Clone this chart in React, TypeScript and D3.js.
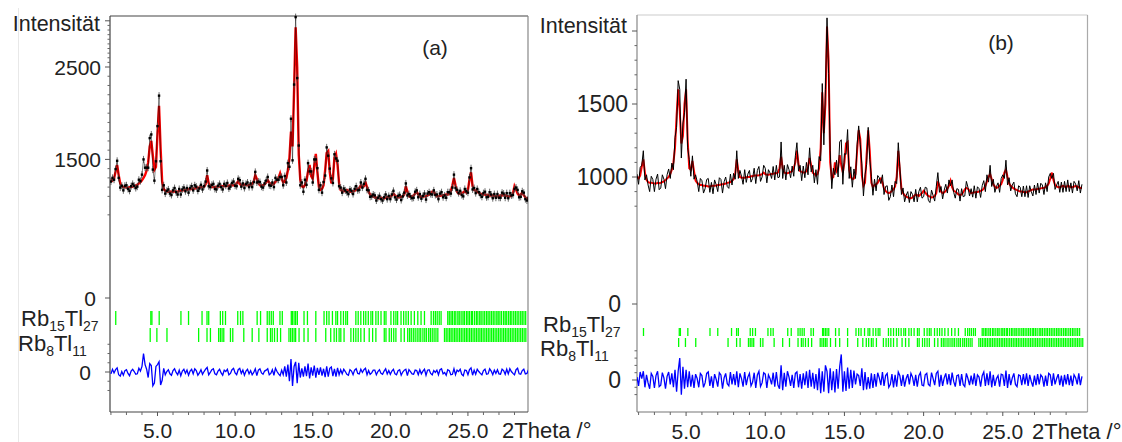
import React from "react";
import * as d3 from "d3";

// ---------- DATA ----------
// Panel (a): 2θ grid starts at 2.0°, step 0.1°
const startA = 2.0;
const calcA = [
  1280, 1270, 1290, 1370, 1440, 1330, 1240, 1210, 1200, 1200,
  1195, 1195, 1200, 1200, 1205, 1210, 1215, 1225, 1240, 1255,
  1275, 1300, 1330, 1380, 1470, 1640, 1700, 1540, 1390, 1420,
  1780, 2080, 1620, 1260, 1180, 1160, 1155, 1150, 1150, 1150,
  1150, 1155, 1150, 1150, 1160, 1160, 1165, 1165, 1170, 1170,
  1175, 1180, 1180, 1185, 1185, 1190, 1195, 1195, 1200, 1200,
  1205, 1230, 1330, 1240, 1205, 1200, 1200, 1200, 1205, 1205,
  1205, 1210, 1210, 1215, 1210, 1215, 1215, 1220, 1220, 1220,
  1225, 1240, 1265, 1235, 1220, 1220, 1225, 1225, 1220, 1220,
  1225, 1230, 1260, 1330, 1290, 1240, 1220, 1215, 1220, 1230,
  1250, 1275, 1250, 1230, 1225, 1235, 1260, 1275, 1300, 1350,
  1290, 1250, 1260, 1300, 1380, 1520, 1800, 1640, 2250, 2930,
  2500, 1550, 1280, 1210, 1200, 1220, 1270, 1370, 1440, 1320,
  1290, 1430, 1560, 1360, 1200, 1170, 1180, 1220, 1380, 1570,
  1590, 1360, 1240, 1290, 1520, 1560, 1440, 1240, 1170, 1160,
  1155, 1160, 1170, 1160, 1150, 1150, 1155, 1160, 1175, 1180,
  1190, 1220, 1200, 1210, 1250, 1200, 1150, 1120, 1110, 1100,
  1090, 1085, 1080, 1080, 1085, 1080, 1080, 1085, 1090, 1090,
  1095, 1110, 1130, 1110, 1095, 1090, 1090, 1095, 1100, 1120,
  1210, 1150, 1100, 1095, 1100, 1110, 1130, 1150, 1120, 1100,
  1095, 1095, 1100, 1100, 1110, 1120, 1140, 1150, 1150, 1120,
  1100, 1100, 1105, 1110, 1110, 1115, 1120, 1120, 1130, 1160,
  1220, 1300, 1220, 1150, 1130, 1130, 1140, 1140, 1160, 1140,
  1170, 1280, 1360, 1210, 1170, 1160, 1150, 1140, 1130, 1125,
  1120, 1120, 1115, 1115, 1110, 1110, 1110, 1105, 1100, 1100,
  1105, 1110, 1110, 1115, 1110, 1105, 1100, 1100, 1105, 1130,
  1210, 1170, 1130, 1110, 1120, 1140, 1110, 1090, 1070, 1060,
];
const diffA = [
  -20, 30, -10, 25, 45, -30, -45, 5, -35, 15,
  25, -15, -40, 10, 30, 5, -25, -20, 40, 10,
  60, 200, 80, 30, -60, 90, 70, -150, -120, 60,
  80, 110, -140, -90, 40, -30, 5, 25, -20, -35,
  15, 35, -5, -30, 20, -40, 10, 30, -15, 20,
  -35, 10, 30, -20, 35, 15, -35, -10, 25, -25,
  5, 30, 50, -30, -5, 25, 35, -20, -30, 10,
  30, -10, -35, 20, 5, 30, -30, -15, 25, 40,
  -10, -30, 25, 40, -15, 20, -35, 10, 30, -20,
  15, -30, -5, 35, -40, 20, 35, -10, -25, 10,
  20, 35, -30, -15, 25, -35, 40, 5, -20, -40,
  20, -30, 60, -50, 80, -100, 140, -150, 60, 110,
  -120, 100, -60, 40, -50, 60, -45, 90, -70, 50,
  -40, 70, -60, 45, -30, 50, -40, 35, -55, 60,
  -50, 40, 55, -45, 35, -50, 45, -30, 25, -20,
  30, 5, -25, -35, 25, 10, -30, 20, 35, -15,
  -20, 30, -5, 25, 40, -30, 15, -25, -10, 20,
  20, -30, 5, 25, -15, -25, 10, 35, -20, 15,
  -25, 10, 30, -20, -30, 15, 25, -35, 0, 20,
  30, -40, 25, 5, -20, -25, 20, 15, -30, 25,
  -20, 10, 30, -35, 20, 25, -15, -30, 15, -5,
  20, -30, 25, 35, -20, -5, -35, 25, 15, -30,
  -25, 35, -30, 20, 5, 30, -25, -40, 20, 15,
  -30, 25, 45, -35, 20, -25, 30, 5, -15, -30,
  15, 30, -25, -20, 35, 10, -30, 20, -15, 25,
  -20, -25, 30, 15, -25, 30, -20, 35, 5, -15,
  -30, 25, 40, -20, -25, 15, 30, -20, -15, 25,
];

// Panel (b): 2θ grid starts at 1.9°, step 0.1°
const startB = 1.9;
const calcB = [
  1000,
  990, 1010, 1070, 1120, 1030, 980, 965, 960, 960, 958,
  955, 955, 960, 958, 960, 965, 970, 980, 990, 1000,
  1020, 1050, 1100, 1200, 1420, 1600, 1450, 1230, 1280, 1500,
  1600, 1250, 1060, 1050, 1110, 1040, 975, 960, 950, 945,
  945, 940, 940, 938, 935, 935, 938, 940, 940, 942,
  945, 945, 948, 950, 952, 955, 960, 962, 965, 975,
  985, 1020, 1120, 1040, 1000, 995, 995, 995, 998, 1000,
  1000, 1005, 1005, 1010, 1010, 1010, 1012, 1015, 1020, 1030,
  1020, 1015, 1015, 1018, 1020, 1022, 1025, 1025, 1030, 1060,
  1140, 1060, 1030, 1025, 1025, 1030, 1035, 1040, 1060, 1100,
  1180, 1090, 1040, 1035, 1030, 1030, 1040, 1070, 1130, 1080,
  1030, 1020, 1010, 1020, 1060, 1200, 1580, 1300, 1500, 2030,
  1800, 1100, 990, 1000, 1100, 1040, 1060, 1150, 1080, 1030,
  1100, 1230, 1240, 1050, 1000, 985, 990, 1020, 1180, 1320,
  1260, 1010, 940, 960, 1150, 1320, 1180, 960, 930, 945,
  950, 960, 980, 990, 960, 920, 905, 895, 890, 895,
  905, 915, 935, 1000, 1180, 1040, 920, 890, 875, 865,
  860, 855, 855, 860, 870, 880, 875, 870, 880, 890,
  905, 895, 880, 870, 865, 860, 862, 870, 890, 970,
  940, 900, 890, 895, 905, 920, 940, 975, 930, 905,
  900, 890, 880, 875, 880, 895, 915, 925, 920, 905,
  890, 892, 895, 895, 898, 900, 905, 910, 920, 940,
  970, 1000, 1020, 985, 950, 935, 925, 930, 940, 950,
  980, 1030, 1050, 1000, 955, 940, 930, 920, 915, 910,
  905, 900, 900, 898, 895, 895, 900, 905, 910, 915,
  915, 915, 918, 920, 922, 925, 925, 930, 940, 955,
  990, 1030, 980, 945, 935, 930, 930, 935, 940, 935,
  930, 940, 935, 930, 930, 935, 938, 935, 930, 925,
  925,
];
const diffB = [
  20,
  -40, 55, 10, 60, -50, 35, -20, -60, 45, 25,
  -55, 30, 60, -45, -35, 50, 15, -60, 25, 55,
  -30, 45, -50, 70, -80, 60, 150, -100, 90, -60,
  70, -50, 60, -45, 35, -55, 40, 10, -50, 45,
  30, -50, -20, 45, 55, -40, 25, -55, 40, 5,
  -45, 50, 35, -60, 15, 45, -25, -40, 55, -30,
  40, -35, 60, -50, 45, 10, -45, 55, -35, 20,
  45, -40, -15, 50, -55, 35, 60, -45, -20, 50,
  40, -55, 35, 10, -30, 50, -45, 55, -35, -60,
  100, -70, 50, -45, 60, 20, -40, 35, -55, 45,
  55, -50, 40, -60, 45, -35, 60, -55, 70, -45,
  50, -60, 40, -70, 80, -90, 60, -80, 100, 60,
  -90, 80, -70, 60, -85, 75, -60, 90, 175, -80,
  60, -75, 85, -60, 70, -55, 65, -30, 40, 30,
  -40, 80, -70, 55, -65, 20, -60, 45, -55, 40,
  -45, 50, 15, -35, 55, -40, 30, 45, -50, -30,
  40, -50, 35, -45, 55, 30, -40, 35, -45, 10,
  40, -30, 45, 20, -40, 35, -45, 30, 50, -35,
  -40, 35, 45, -30, -40, 50, 10, -35, 45, 60,
  -45, 35, -40, 15, 45, -30, 40, -35, 50, -10,
  -45, 30, 35, -40, 40, -30, -45, 45, 10, -35,
  30, -30, 45, -40, 35, 20, -45, 30, 55, -40,
  45, -35, 60, -50, 35, -40, 10, 30, -45, 40,
  35, -40, 65, -55, 40, -35, 15, 45, -30, -45,
  35, 30, -35, 40, -30, 45, -40, 35, -10, -45,
  30, -35, 40, -30, 35, 20, -45, 30, -40, 45,
  35, -40, 45, -30, 10, 40, -35, 30, -45, 35,
  -30, 40, -35, 30, -40, 35, 15, -30, 45, -35,
  25,
];

// Reflection positions (2θ / °)
const reflRb15Tl27 = [
  2.31, 4.57, 4.64, 5.11, 6.51, 7.0, 7.87, 8.19, 8.3, 9.05, 9.2, 9.38, 10.17, 10.35, 10.5,
  11.42, 11.64, 12.07, 12.2, 12.33, 12.46, 12.89, 13.04, 13.62, 13.69, 13.8, 13.9, 14.01,
  14.44, 14.66, 15.2, 15.73, 15.9, 16.05, 16.27, 16.49, 16.6, 16.81, 16.98, 17.13, 17.24,
  17.78, 17.93, 18.1, 18.28, 18.42, 18.58, 18.75, 18.86, 19.07, 19.22, 19.4, 19.61, 19.72,
  20.04, 20.22, 20.36, 20.47, 20.69, 20.86, 21.01, 21.16, 21.34, 21.55, 21.77, 21.98, 22.2,
  22.63, 22.78, 22.9, 23.02, 23.15, 23.27, 23.7, 23.8, 23.91, 24.0, 24.12, 24.22, 24.35,
  24.44, 24.56, 24.68, 24.77, 24.9, 25.0, 25.1, 25.22, 25.3, 25.43, 25.55, 25.64, 25.76,
  25.85, 25.97, 26.08, 26.2, 26.3, 26.41, 26.52, 26.63, 26.74, 26.86, 26.95, 27.06, 27.17,
  27.3, 27.4, 27.5, 27.62, 27.73, 27.83, 27.95, 28.06, 28.17, 28.28, 28.4, 28.5, 28.61,
  28.72, 28.84, 28.95, 29.05, 29.17, 29.28, 29.4, 29.5, 29.62, 29.73, 29.85,
];
const reflRb8Tl11 = [
  4.53, 4.96, 5.61, 7.65, 8.19, 8.41, 8.94, 9.05, 9.16, 9.27, 9.7, 9.85, 10.56, 11.1, 11.53,
  12.07, 12.28, 12.39, 12.54, 12.72, 12.93, 13.47, 13.58, 13.69, 13.8, 13.9, 14.12, 14.44,
  14.7, 15.2, 15.84, 16.16, 16.38, 16.53, 16.7, 16.81, 17.02, 17.46, 17.63, 17.78, 17.93,
  18.1, 18.32, 18.64, 18.86, 19.07, 19.61, 19.72, 19.93, 20.07, 20.22, 20.36, 20.69, 20.9,
  21.12, 21.24, 21.35, 21.48, 21.6, 21.73, 21.85, 21.96, 22.1, 22.22, 22.33, 22.47, 22.58,
  22.7, 22.82, 22.94, 23.06, 23.49, 23.6, 23.71, 23.82, 23.92, 24.03, 24.14, 24.24, 24.35,
  24.46, 24.57, 24.68, 24.79, 24.9, 25.0, 25.11, 25.22, 25.33, 25.44, 25.55, 25.66, 25.77,
  25.87, 25.98, 26.09, 26.2, 26.31, 26.42, 26.53, 26.64, 26.75, 26.86, 26.97, 27.08, 27.19,
  27.3, 27.41, 27.52, 27.63, 27.74, 27.85, 27.96, 28.07, 28.18, 28.29, 28.4, 28.51, 28.62,
  28.73, 28.84, 28.95, 29.06, 29.17, 29.28, 29.39, 29.5, 29.61, 29.72, 29.83, 29.94, 30.05,
];

const xMajorTicks = [5, 10, 15, 20, 25];
const xTickFormat = (v: number) => v.toFixed(1);
const yLabelsA = [2500, 1500];
const yLabelsB = [1500, 1000];
const axisTitle = "2Theta /°";
const yTitle = "Intensität";

// ---------- RENDERING ----------
const FONT = "'Liberation Sans', Arial, Helvetica, sans-serif";
const NARROW = "'Liberation Sans Narrow', 'Arial Narrow', 'Liberation Sans', Arial, sans-serif";

type PanelCfg = {
  id: string;
  letter: string;
  start: number;
  calc: number[];
  diff: number[];
  xDomain: [number, number];
  xRange: [number, number];
  top: number;
  bottom: number;
  yAxis: d3.ScaleLinear<number, number>;
  yData: d3.ScaleLinear<number, number>;
  yDiff: d3.ScaleLinear<number, number>;
  yTop: number;
  yTitleOffset: number;
  yMinorVals: number[];
  diffMinorVals: number[];
  yLabels: number[];
  fontY: number;
  row1: [number, number];
  row2: [number, number];
  labelX: number;
  label1Y: number;
  label2Y: number;
  zeroLabelX: number;
  diffZeroLabelX: number;
  titleY: number;
  letterX: number;
  letterY: number;
  maxTick: number;
  frame: { left: string; bottom: string; top: string; right: string };
  obsPoints: boolean;
  titleX: number;
};

function Panel({ c }: { c: PanelCfg }) {
  const x = d3.scaleLinear().domain(c.xDomain).range(c.xRange);
  const [x0, x1] = c.xRange;
  const theta = c.calc.map((_, i) => +(c.start + i * 0.1).toFixed(2));
  const obs = c.calc.map((v, i) => v + c.diff[i]);
  const calcLine = d3
    .line<number>()
    .x((_, i) => x(theta[i]))
    .y((v) => c.yData(v));
  const diffLine = d3
    .line<number>()
    .x((_, i) => x(theta[i]))
    .y((v) => c.yDiff(v));
  const minorX = d3.range(Math.ceil(c.xDomain[0]), c.maxTick + 1, 1).filter((v) => v % 5 !== 0);
  const clipId = "clip-" + c.id;
  const inDomain = (t: number) => t >= c.xDomain[0] && t <= c.xDomain[1] - 0.05;
  const zeroY = c.yAxis(0);
  const diffZeroY = c.yDiff(0);
  const topY = c.yAxis(c.yTop);
  return (
    <g>
      <defs>
        <clipPath id={clipId}>
          <rect x={x0} y={0} width={x1 - x0} height={c.bottom} />
        </clipPath>
      </defs>
      {/* frame */}
      <line x1={x0} x2={x1} y1={c.top} y2={c.top} stroke={c.frame.top} strokeWidth={1.2} />
      <line x1={x1} x2={x1} y1={c.top} y2={c.bottom} stroke={c.frame.right} strokeWidth={1.2} />
      <line x1={x0} x2={x1} y1={c.bottom} y2={c.bottom} stroke={c.frame.bottom} strokeWidth={1.2} />
      <line x1={x0} x2={x0} y1={c.top} y2={c.bottom} stroke={c.frame.left} strokeWidth={1.2} />

      {/* y ticks */}
      {c.yMinorVals.map((v) => (
        <line key={"ym" + v} x1={x0 - 2.5} x2={x0} y1={c.yData(v)} y2={c.yData(v)} stroke="#666" strokeWidth={1} />
      ))}
      {c.yLabels.map((v) => (
        <line key={"yM" + v} x1={x0 - 5} x2={x0} y1={c.yData(v)} y2={c.yData(v)} stroke="#555" strokeWidth={1} />
      ))}
      <line x1={x0 - 5} x2={x0} y1={topY} y2={topY} stroke="#555" strokeWidth={1} />
      <line x1={x0 - 5} x2={x0} y1={zeroY} y2={zeroY} stroke="#555" strokeWidth={1} />
      <line x1={x0 - 5} x2={x0} y1={diffZeroY} y2={diffZeroY} stroke="#555" strokeWidth={1} />
      {c.diffMinorVals.map((v) => (
        <line key={"dm" + v} x1={x0 - 2.5} x2={x0} y1={c.yDiff(v)} y2={c.yDiff(v)} stroke="#666" strokeWidth={1} />
      ))}
      {c.yLabels.map((v) => (
        <text key={"yl" + v} x={x0 - 9} y={c.yData(v)} dy="0.36em" textAnchor="end" fontSize={c.fontY} fontFamily={FONT} fill="#222">
          {v}
        </text>
      ))}
      <text x={x0 - 10} y={topY + c.yTitleOffset} dy="0.36em" textAnchor="end" fontSize={21.5} fontFamily={FONT} fill="#222">
        {yTitle}
      </text>
      <text x={c.zeroLabelX} y={zeroY} dy="0.36em" textAnchor="end" fontSize={c.fontY} fontFamily={FONT} fill="#222">0</text>
      <text x={c.diffZeroLabelX} y={diffZeroY} dy="0.36em" textAnchor="end" fontSize={c.fontY} fontFamily={FONT} fill="#222">0</text>

      {/* x ticks */}
      {minorX.map((v) => (
        <line key={"xm" + v} x1={x(v)} x2={x(v)} y1={c.bottom} y2={c.bottom + 3} stroke="#666" strokeWidth={1} />
      ))}
      {xMajorTicks.map((v) => (
        <g key={"xM" + v}>
          <line x1={x(v)} x2={x(v)} y1={c.bottom} y2={c.bottom + 4} stroke="#555" strokeWidth={1} />
          <text x={x(v)} y={c.titleY} textAnchor="middle" fontSize={21} fontFamily={NARROW} fill="#222">
            {xTickFormat(v)}
          </text>
        </g>
      ))}
      <text x={c.titleX} y={c.titleY} fontSize={22} fontFamily={FONT} fill="#222">{axisTitle}</text>

      {/* panel letter */}
      <text x={c.letterX} y={c.letterY} dy="0.36em" textAnchor="middle" fontSize={21} fontFamily={FONT} fill="#222">
        {c.letter}
      </text>

      {/* phase labels */}
      <text x={c.labelX} y={c.label1Y} fontSize={22} fontFamily={FONT} fill="#222">
        Rb<tspan fontSize={14} dy={5}>15</tspan><tspan dy={-5}>Tl</tspan><tspan fontSize={14} dy={5}>27</tspan>
      </text>
      <text x={c.labelX - 3} y={c.label2Y} fontSize={22} fontFamily={FONT} fill="#222">
        Rb<tspan fontSize={14} dy={5}>8</tspan><tspan dy={-5}>Tl</tspan><tspan fontSize={14} dy={5}>11</tspan>
      </text>

      <g clipPath={`url(#${clipId})`}>
        {/* reflection markers */}
        {reflRb15Tl27.filter(inDomain).map((t, i) => (
          <line key={"r1" + i} x1={x(t)} x2={x(t)} y1={c.row1[0]} y2={c.row1[1]} stroke="#00ff00" strokeWidth={1.3} />
        ))}
        {reflRb8Tl11.filter(inDomain).map((t, i) => (
          <line key={"r2" + i} x1={x(t)} x2={x(t)} y1={c.row2[0]} y2={c.row2[1]} stroke="#00ff00" strokeWidth={1.3} />
        ))}
        {/* difference */}
        <path d={diffLine(c.diff) || ""} fill="none" stroke="#0000ff" strokeWidth={1.3} />
        {/* calculated */}
        <path d={calcLine(c.calc) || ""} fill="none" stroke="#ff0000" strokeWidth={c.obsPoints ? 2.4 : 2} />
        {/* observed */}
        {c.obsPoints ? (
          <g>
            <path d={calcLine(obs) || ""} fill="none" stroke="#000" strokeWidth={0.7} strokeOpacity={0.7} />
            {obs.map((v, i) => (
              <g key={"o" + i}>
                <line x1={x(theta[i])} x2={x(theta[i])} y1={c.yData(v) - 3.5} y2={c.yData(v) + 3.5} stroke="#444" strokeWidth={0.8} />
                <rect x={x(theta[i]) - 1.2} y={c.yData(v) - 1.2} width={2.4} height={2.4} fill="#000" />
              </g>
            ))}
          </g>
        ) : (
          <path d={calcLine(obs) || ""} fill="none" stroke="#000" strokeWidth={1} />
        )}
      </g>
    </g>
  );
}

export default function App() {
  const yA = d3.scaleLinear().domain([0, 2500]).range([298, 67]);
  const panelA: PanelCfg = {
    id: "a",
    letter: "(a)",
    start: startA,
    calc: calcA,
    diff: diffA,
    xDomain: [1.94, 28.87],
    xRange: [110, 528],
    top: 16,
    bottom: 412,
    yAxis: yA,
    yData: yA,
    yDiff: d3.scaleLinear().domain([-1000, 1000]).range([372 + 92.4, 372 - 92.4]),
    yTop: 3000,
    yTitleOffset: 2,
    yMinorVals: [900, 1100, 1200, 1300, 1400, 1600, 1700, 1800, 1900, 2000, 2100, 2200, 2300, 2400, 2550, 2600, 2650, 2700, 2750, 2800, 2850, 2900, 2950],
    diffMinorVals: [-200, -100, 100, 200, 300],
    yLabels: yLabelsA,
    fontY: 21,
    row1: [311, 325],
    row2: [328, 342],
    labelX: 21,
    label1Y: 326,
    label2Y: 351,
    zeroLabelX: 96,
    diffZeroLabelX: 91,
    titleY: 438,
    letterX: 435,
    letterY: 47,
    maxTick: 28,
    frame: { left: "#444", bottom: "#444", top: "#444", right: "#888" },
    obsPoints: true,
    titleX: 502,
  };
  const yBData = d3.scaleLinear().domain([1000, 2000]).range([177, 31]);
  const yBAxis = d3.scaleLinear().domain([0, 1000, 2000]).range([304, 177, 31]);
  const panelB: PanelCfg = {
    id: "b",
    letter: "(b)",
    start: startB,
    calc: calcB,
    diff: diffB,
    xDomain: [1.9, 30.35],
    xRange: [637, 1087.5],
    top: 15,
    bottom: 412,
    yAxis: yBAxis,
    yData: yBData,
    yDiff: d3.scaleLinear().domain([-1000, 1000]).range([380 + 146, 380 - 146]),
    yTop: 2000,
    yTitleOffset: -6,
    yMinorVals: [800, 900, 1100, 1200, 1300, 1400, 1600, 1700, 1800, 1900],
    diffMinorVals: [-100, -50, 50, 100, 150, 200],
    yLabels: yLabelsB,
    fontY: 23,
    row1: [328, 336],
    row2: [338, 347],
    labelX: 543,
    label1Y: 332,
    label2Y: 356,
    zeroLabelX: 621,
    diffZeroLabelX: 621,
    titleY: 439,
    letterX: 1001,
    letterY: 42,
    maxTick: 30,
    frame: { left: "#888", bottom: "#777", top: "#ccc", right: "#aaa" },
    obsPoints: false,
    titleX: 1032,
  };
  return (
    <svg
      width={1122}
      height={442}
      style={{ position: "absolute", left: 0, top: 0, background: "#fff" }}
      xmlns="http://www.w3.org/2000/svg"
    >
      <rect x={0} y={0} width={1122} height={442} fill="#fff" />
      <line x1={18.5} x2={18.5} y1={8} y2={442} stroke="#e8e8e8" strokeWidth={1} />
      <Panel c={panelA} />
      <Panel c={panelB} />
    </svg>
  );
}
